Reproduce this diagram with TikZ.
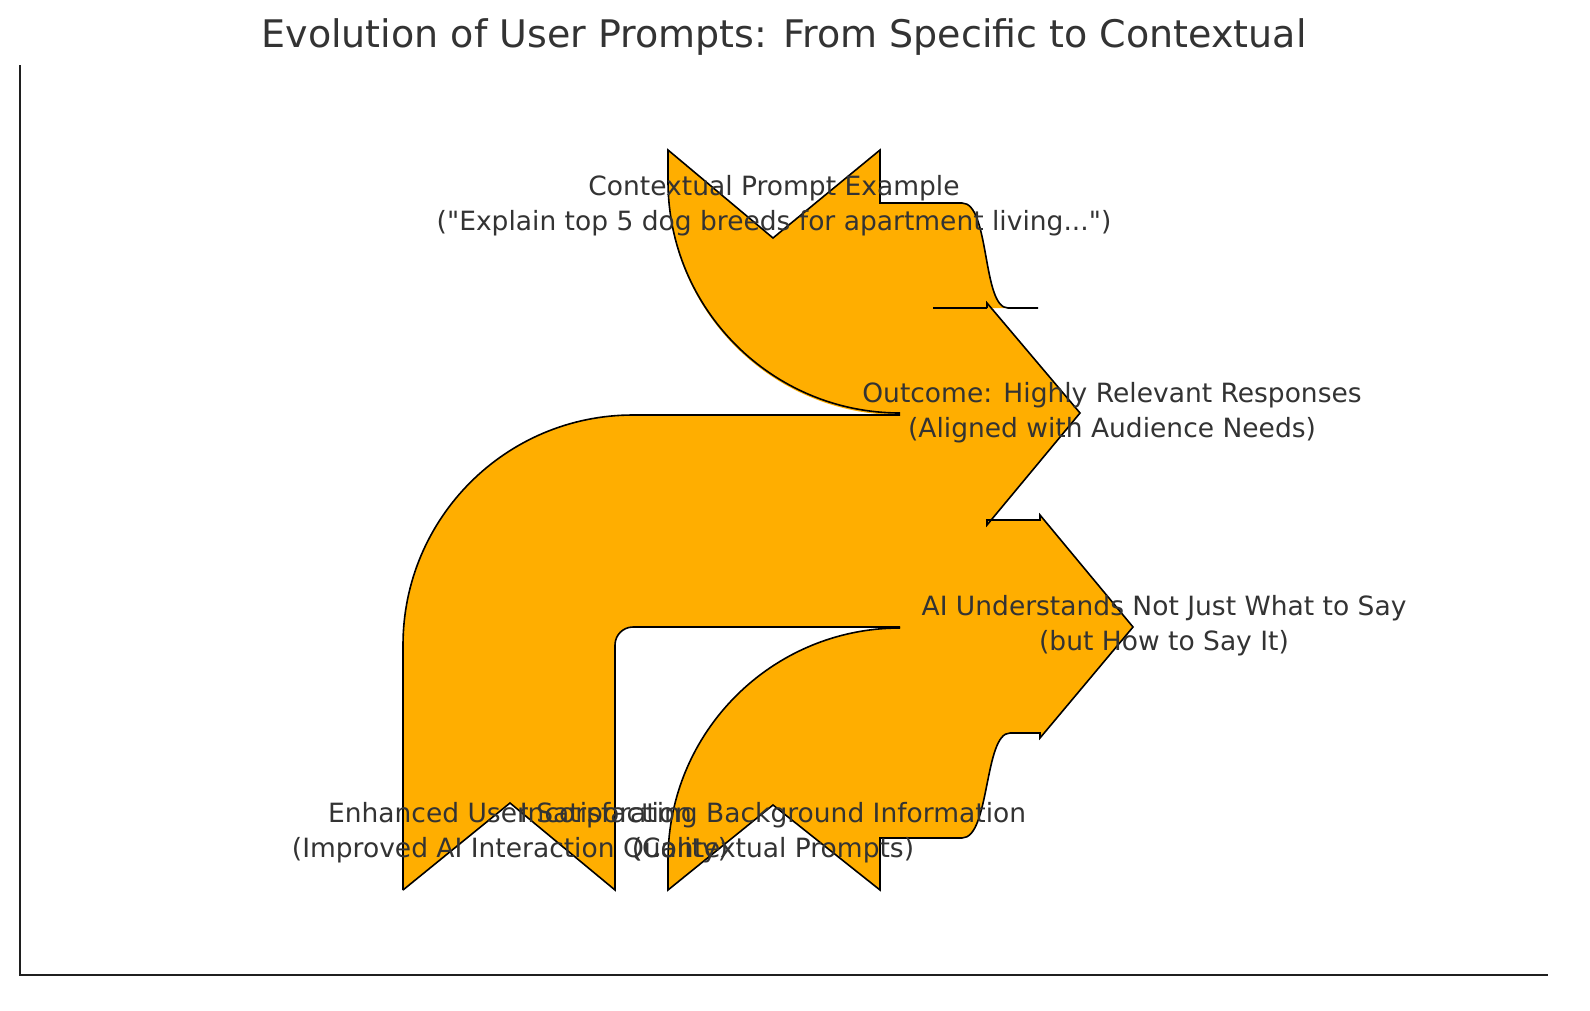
\documentclass[tikz,border=0pt]{standalone}
\usepackage{fontspec}
\setmainfont{DejaVu Sans}
\newfontfamily\plainq{DejaVu Sans}
\definecolor{flow}{HTML}{FFAE00}
\definecolor{txt}{HTML}{333333}
\begin{document}
\begin{tikzpicture}[x=1pt,y=-1pt,
  lbl/.style={text=txt,align=center,font=\fontsize{26.5}{35}\selectfont,inner sep=0pt},
  edge/.style={line width=1.6pt,line join=miter}]
\useasboundingbox (0,0) rectangle (1590,1010);
\fill[white] (0,0) rectangle (1590,1010);
% axes
\draw[line width=1.5pt,txt!60!black] (20,65) -- (20,975) -- (1548,975);
% fill
\fill[flow] (403,890) -- (403,645) arc (180:270:230) -- (900,415)
  arc (90:180:232) -- (668,150) -- (773,238) -- (880,150) -- (880,203) -- (962,203)
  .. controls (990,203) and (982,308) .. (1008,308) -- (987,308) -- (987,303)
  -- (1080,413) -- (987,525) -- (987,520) -- (1040,520) -- (1040,515)
  -- (1133,627) -- (1040,738) -- (1040,733) -- (1010,733)
  .. controls (984,733) and (990,838) .. (962,838) -- (880,838) -- (880,890)
  -- (773,805) -- (668,890) -- (668,860) arc (180:270:232) -- (633,627)
  arc (270:180:18) -- (615,890) -- (510,803) -- cycle;
% edges
\draw[edge] (403,890) -- (403,645) arc (180:270:230) -- (900,415);
\draw[edge] (900,627) -- (633,627) arc (270:180:18) -- (615,890) -- (510,803) -- (403,890);
\draw[edge] (900,413) arc (90:180:232) -- (668,150) -- (773,238) -- (880,150) -- (880,203) -- (962,203)
  .. controls (990,203) and (982,308) .. (1008,308) -- (1038,308);
\draw[edge] (933,308) -- (987,308);
\draw[edge] (987,308) -- (987,303) -- (1080,413) -- (987,525) -- (987,520) -- (1040,520) -- (1040,515)
  -- (1133,627) -- (1040,738) -- (1040,733) -- (1010,733)
  .. controls (984,733) and (990,838) .. (962,838) -- (880,838) -- (880,890)
  -- (773,805) -- (668,890) -- (668,860) arc (180:270:232);
% title
\node[text=txt,font=\fontsize{38}{44}\selectfont] (title) at (784,37) {Evolution of User Prompts: From Specific to Contextual};
% labels
\node[lbl] (ctx) at (774,206) {Contextual Prompt Example\\({\plainq"}Explain top 5 dog breeds for apartment living...{\plainq"})};
\node[lbl] (out) at (1112,413) {Outcome: Highly Relevant Responses\\(Aligned with Audience Needs)};
\node[lbl] (ai) at (1164,626) {AI Understands Not Just What to Say\\(but How to Say It)};
\node[lbl] (sat) at (510,833) {Enhanced User Satisfaction\\(Improved AI Interaction Quality)};
\node[lbl] (inc) at (773,833) {Incorporating Background Information\\(Contextual Prompts)};
\end{tikzpicture}
\end{document}
